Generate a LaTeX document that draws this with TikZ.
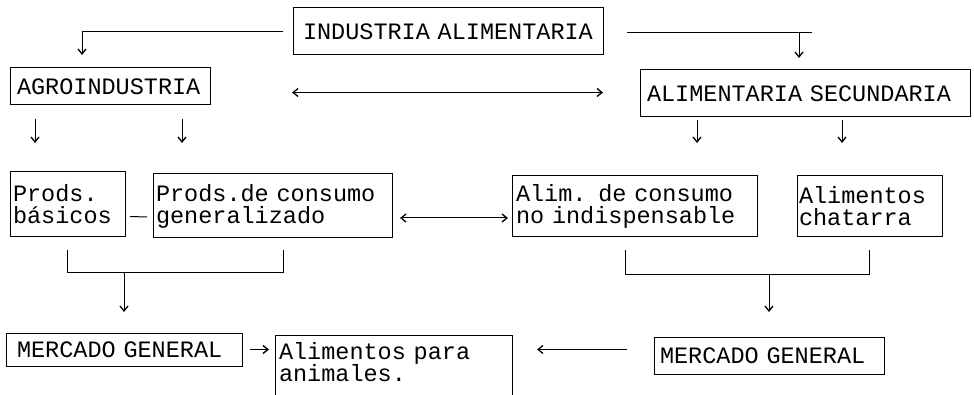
\documentclass[tikz,border=0pt]{standalone}
\usepackage{fontspec}
\setmonofont{Liberation Mono}
\usetikzlibrary{arrows.meta,calc}
\newcommand{\myboxfont}{\fontsize{23.5pt}{22pt}\selectfont\ttfamily}
\begin{document}
\begin{tikzpicture}[x=1pt,y=-1pt,
  line width=1pt,
  box/.style={draw, anchor=north west, inner ysep=0pt, outer sep=0pt, align=left,
    font=\myboxfont},
  plain/.style={box, draw=none},
  tip/.tip={Straight Barb[length=5pt,width=8pt,line width=1.3pt]},
  arr/.style={-tip},
  darr/.style={tip-tip}]
\clip (0,0) rectangle (974,395);
\fill[white] (0,0) rectangle (974,395);

% boxes
\node[box, minimum width=310pt, minimum height=47pt, text width=290pt, inner xsep=10pt] (ind) at (293,8) {INDUSTRIA ALIMENTARIA};
\node[box, minimum width=200pt, minimum height=37pt, text width=186pt, inner xsep=7pt] (agro) at (10,68) {AGROINDUSTRIA};
\node[box, minimum width=330pt, minimum height=47pt, text width=316pt, inner xsep=7pt] (sec) at (640,70) {ALIMENTARIA SECUNDARIA};
\node[box, minimum width=115pt, minimum height=65pt, text width=109pt, inner xsep=3pt] (bas) at (10,172) {Prods.\\básicos};
\node[box, minimum width=239pt, minimum height=64pt, text width=233pt, inner xsep=3pt] (gen) at (153,174) {Prods.de consumo\\generalizado};
\node[box, minimum width=245pt, minimum height=61pt, text width=237pt, inner xsep=4pt] (nind) at (512,176) {Alim. de consumo\\no indispensable};
\node[box, minimum width=145pt, minimum height=61pt, text width=141pt, inner xsep=2pt] (chat) at (797,176) {Alimentos\\chatarra};
\node[box, minimum width=236pt, minimum height=33pt, text width=214pt, inner xsep=11pt] (mg1) at (6,333) {MERCADO GENERAL};
\node[plain, minimum width=237pt, minimum height=54pt, text width=229pt, inner xsep=4pt] (alimp) at (275,335) {Alimentos para\\animales.};
\draw ($(alimp.south west)+(0,30)$) -- (alimp.north west) -- (alimp.north east) -- ($(alimp.south east)+(0,30)$);
\node[box, minimum width=230pt, minimum height=37pt, text width=218pt, inner xsep=6pt] (mg2) at (654,337) {MERCADO GENERAL};

% top connectors
\draw[arr] ($(ind.west)+(-10,0)$) -| ($(agro.north)+(-28,-13)$);
\draw ($(ind.east)+(24,1)$) -- ($(ind.east)+(209,1)$);
\draw[arr] ($(sec.north |- ind.east)+(-6,1)$) -- ($(sec.north)+(-6,-12)$);
\draw[darr] ($(agro.east |- sec.west)+(82,-1)$) -- ($(sec.west)+(-37,-1)$);

% arrows down to row 3
\draw[arr] ($(agro.south west)+(25,14)$) -- ($(agro.south west)+(25,38)$);
\draw[arr] ($(agro.south west)+(172,14)$) -- ($(agro.south west)+(172,38)$);
\draw[arr] ($(sec.south west)+(57,3)$) -- ($(sec.south west)+(57,26)$);
\draw[arr] ($(sec.south west)+(202,3)$) -- ($(sec.south west)+(202,26)$);

% row 3 links
\draw ($(bas.east)+(5,12)$) -- ($(gen.west)+(-6,11)$);
\draw[darr] ($(gen.east)+(8,12)$) -- ($(nind.west)+(-4,11.5)$);

% brackets
\draw ($(bas.south)+(0,13)$) -- ($(bas.south)+(0,36)$) -- ($(gen.south)+(11,35)$) -- ($(gen.south)+(11,12)$);
\draw[arr] ($(mg1.north)+(0,-60)$) -- ($(mg1.north)+(0,-21)$);
\draw ($(nind.south)+(-9.5,13)$) -- ($(nind.south)+(-9.5,38)$) -- ($(chat.south)+(0,38)$) -- ($(chat.south)+(0,13)$);
\draw[arr] ($(mg2.north)+(0,-62)$) -- ($(mg2.north)+(0,-25)$);

% bottom row
\draw[arr] ($(mg1.east)+(8,0)$) -- ($(mg1.east -| alimp.west)+(-6,0)$);
\draw[arr] ($(mg2.west)+(-27,-6)$) -- ($(mg2.west -| alimp.east)+(25,-6)$);
\end{tikzpicture}
\end{document}
